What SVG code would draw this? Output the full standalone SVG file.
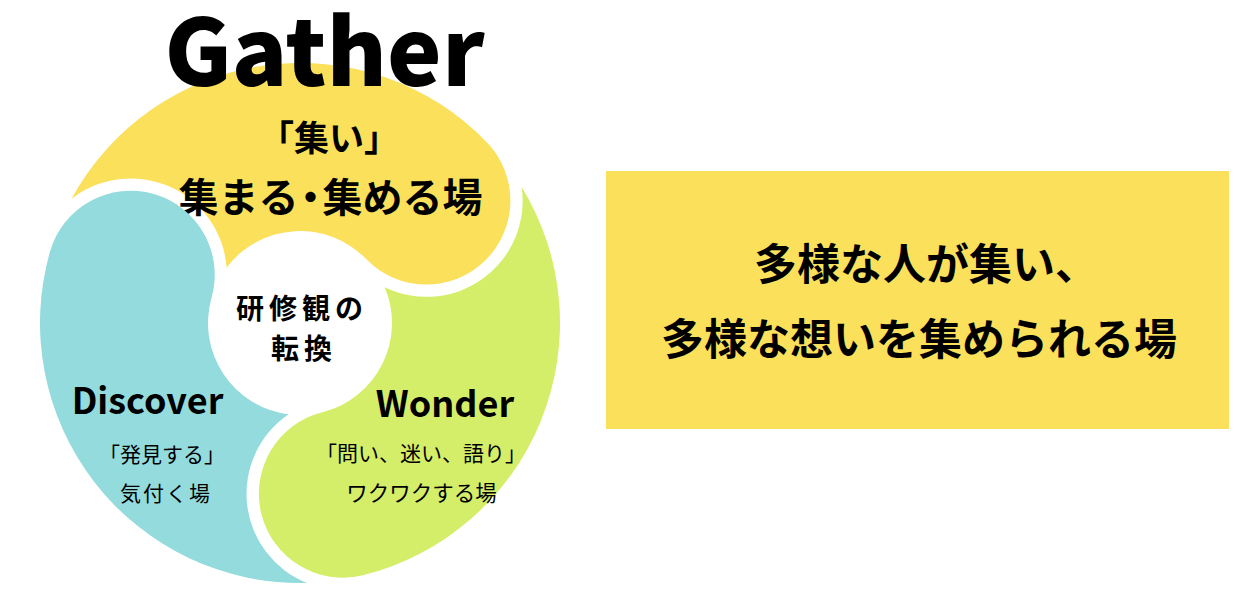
<svg xmlns="http://www.w3.org/2000/svg" width="1249" height="601" viewBox="0 0 1249 601">
  <defs>
    <path id="piece" d="M 71.47 199.0 A 260 260 0 0 1 487.03 142.39 A 84 84 0 0 1 366.18 259.09 A 92 92 0 0 0 226.61 267.53 A 96 96 0 0 0 71.47 199.0 Z"/>
  </defs>
  <style>
    .jp { font-family: "Noto Sans CJK JP", "Noto Sans", sans-serif; fill: #000; }
    .lat { font-family: "Noto Sans CJK JP", "Noto Sans", sans-serif; fill: #000; }
    .b { font-weight: 700; }
    .r { font-weight: 400; }
    .k { font-weight: 900; }
    .yellow { fill: #FAE05B; }
    .green { fill: #D4EE69; }
    .blue { fill: #94DBDD; }
  </style>
  <rect width="1249" height="601" fill="#FFFFFF"/>

  <g id="node-gather">
    <use href="#piece" class="yellow"/>
    <text class="lat k" x="324.5" y="86" font-size="92" text-anchor="middle">Gather</text>
    <text class="jp b" x="329" y="151" font-size="35" text-anchor="middle">「集い」</text>
    <text class="jp b" x="330.5" y="212" font-size="40" text-anchor="middle">集まる<tspan dx="-8">・</tspan><tspan dx="-8">集める場</tspan></text>
  </g>

  <g id="node-wonder">
    <use href="#piece" class="green" transform="rotate(120 300 323)"/>
    <text class="lat b" x="445" y="417" font-size="36" text-anchor="middle">Wonder</text>
    <text class="jp r" x="421" y="461" font-size="21" text-anchor="middle">「問い、迷い、語り」</text>
    <text class="jp r" x="421.5" y="501" font-size="21.5" text-anchor="middle">ワクワクする場</text>
  </g>

  <g id="node-discover">
    <use href="#piece" class="blue" transform="rotate(240 300 323)"/>
    <text class="lat b" x="147.5" y="414" font-size="36" text-anchor="middle">Discover</text>
    <text class="jp r" x="162" y="462" font-size="21" text-anchor="middle">「発見する」</text>
    <text class="jp r" x="166" y="501" font-size="21" text-anchor="middle" letter-spacing="2">気付く場</text>
  </g>

  <g id="node-center">
    <text class="jp b" x="302" y="319" font-size="28" text-anchor="middle" letter-spacing="5">研修観の</text>
    <text class="jp b" x="304" y="359" font-size="28" text-anchor="middle" letter-spacing="5">転換</text>
  </g>

  <g id="node-box">
    <rect x="606" y="171" width="623" height="258" class="yellow"/>
    <text class="jp b" x="754" y="280" font-size="43">多様な人が集い、</text>
    <text class="jp b" x="919" y="355" font-size="43" text-anchor="middle">多様な想いを集められる場</text>
  </g>

  <g id="connectors"/>
</svg>
